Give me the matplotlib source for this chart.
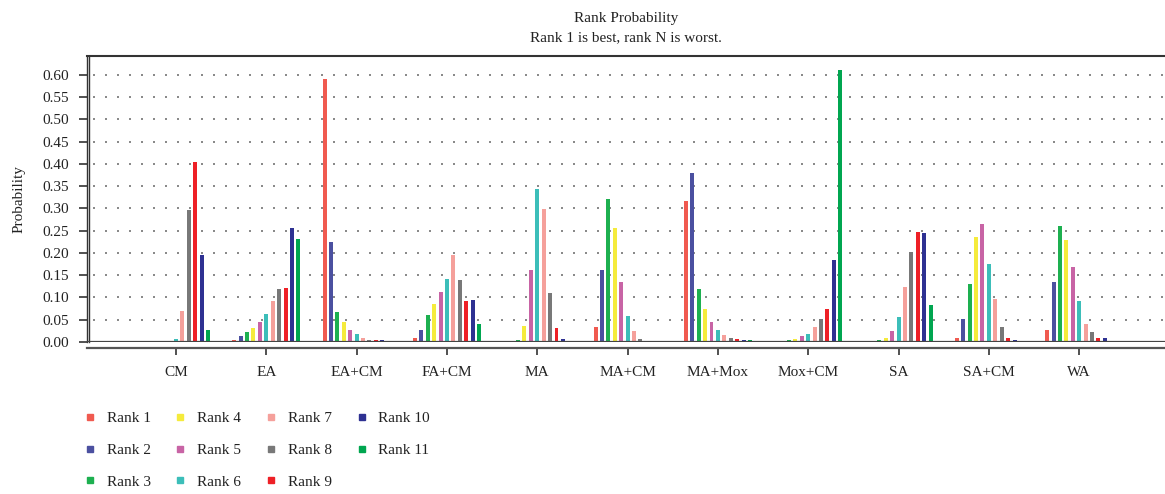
import numpy as np
import matplotlib
matplotlib.use('Agg')
import matplotlib.pyplot as plt
from matplotlib.lines import Line2D
from matplotlib import transforms

plt.rcParams['font.family'] = ['Liberation Serif', 'DejaVu Serif']
plt.rcParams['font.size'] = 11

categories = ['CM', 'EA', 'EA+CM', 'FA+CM', 'MA', 'MA+CM', 'MA+Mox',
              'Mox+CM', 'SA', 'SA+CM', 'WA']
rank_labels = ['Rank %d' % i for i in range(1, 12)]
rank_colors = ['#F05A50', '#4B50A0', '#1DB050', '#F5EB3C', '#C864A5', '#3CBEB9',
               '#F5A09B', '#787878', '#EE2026', '#2E3192', '#00A650']

# probability of each rank (rows) per treatment (columns, same order as categories)
rank1 = [0.000, 0.004, 0.591, 0.008, 0.000, 0.033, 0.316, 0.0015, 0.000, 0.008, 0.028]
rank2 = [0.000, 0.013, 0.224, 0.028, 0.000, 0.161, 0.379, 0.0015, 0.0015, 0.051, 0.134]
rank3 = [0.000, 0.022, 0.067, 0.060, 0.004, 0.321, 0.118, 0.004, 0.004, 0.130, 0.260]
rank4 = [0.000, 0.031, 0.046, 0.085, 0.037, 0.256, 0.073, 0.006, 0.008, 0.235, 0.229]
rank5 = [0.002, 0.044, 0.026, 0.112, 0.161, 0.134, 0.044, 0.013, 0.024, 0.265, 0.168]
rank6 = [0.006, 0.062, 0.017, 0.141, 0.343, 0.058, 0.026, 0.019, 0.055, 0.175, 0.091]
rank7 = [0.069, 0.091, 0.010, 0.195, 0.298, 0.024, 0.015, 0.033, 0.123, 0.096, 0.040]
rank8 = [0.296, 0.118, 0.004, 0.139, 0.109, 0.006, 0.008, 0.051, 0.202, 0.033, 0.022]
rank9 = [0.404, 0.121, 0.004, 0.091, 0.031, 0.0015, 0.006, 0.073, 0.247, 0.008, 0.008]
rank10 = [0.195, 0.256, 0.004, 0.094, 0.006, 0.0015, 0.004, 0.184, 0.244, 0.004, 0.008]
rank11 = [0.026, 0.231, 0.002, 0.040, 0.0015, 0.000, 0.004, 0.611, 0.082, 0.0015, 0.0015]
ranks = [rank1, rank2, rank3, rank4, rank5, rank6, rank7, rank8, rank9, rank10, rank11]

W, H = 1165, 494
fig = plt.figure(figsize=(W / 100, H / 100), dpi=100)
ax = fig.add_axes([87 / W, (H - 342) / H, 1 - 87 / W, 286 / H])

x = np.arange(len(categories))
step = 0.071
width = 0.044
for i, vals in enumerate(ranks):
    ax.bar(x + (i - 5) * step, vals, width, color=rank_colors[i], zorder=3)

ax.set_xlim(-0.985, 10.95)
ax.set_ylim(0, 0.642)
yt = np.arange(0, 0.61, 0.05)
ax.set_yticks(yt)
ax.set_yticklabels(['%.2f' % v for v in yt])
ax.set_xticks(x)
ax.set_xticklabels(categories)

for v in yt[1:]:
    ax.axhline(v, color='#8a8a8a', lw=1.44, ls=(3, (1, 5)), zorder=1)
ax.axhline(0, color='#444444', lw=1.6, zorder=4)

ax.spines['right'].set_visible(False)
ax.spines['top'].set_color('#333333')
ax.spines['top'].set_linewidth(1.5)
ax.spines['left'].set_color('#333333')
ax.spines['left'].set_linewidth(1.0)
ax.spines['bottom'].set_position(('outward', 4))
ax.spines['bottom'].set_color('#555555')
ax.spines['bottom'].set_linewidth(1.6)
# thin second line next to the left axis
off = transforms.offset_copy(ax.transAxes, fig=fig, x=2, y=0, units='dots')
ax.add_line(Line2D([0, 0], [0, 1], transform=off, color='#333333', lw=1.0, clip_on=False))

ax.tick_params(axis='y', direction='out', length=6, width=1.2, pad=7, colors='#333333', labelcolor='#222222')
ax.tick_params(axis='x', direction='out', length=5, width=1.2, pad=8, colors='#333333', labelcolor='#222222')

ax.set_ylabel('Probability', labelpad=12, color='#222222')
ax.set_title('Rank Probability\nRank 1 is best, rank N is worst.', fontsize=11, pad=11, color='#222222',
             linespacing=1.55)

handles = [Line2D([], [], marker='s', ls='none', markersize=4.5, color=c) for c in rank_colors]
fig.legend(handles, rank_labels, ncol=4, frameon=False, loc='upper left',
           bbox_to_anchor=(76 / W, 1 - 404 / H), handlelength=0.8, handletextpad=0.7,
           columnspacing=1.55, labelspacing=1.18, borderpad=0, labelcolor='#222222')

fig.savefig('out.png', dpi=100)
